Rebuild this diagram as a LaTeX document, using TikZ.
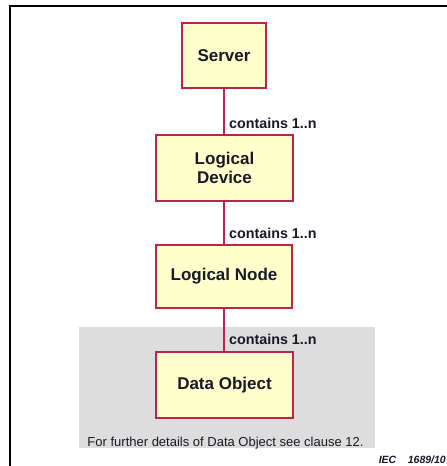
\documentclass[tikz,border=0pt]{standalone}
\usepackage{fontspec}
\setmainfont{Liberation Sans}
\begin{document}
\begin{tikzpicture}[x=1pt,y=-1pt,
  cls/.style={draw=boxred, fill=boxfill, line width=1.1pt, inner sep=0pt, align=center,
    font=\fontsize{17}{20}\selectfont\bfseries, text=textdark},
  lbl/.style={anchor=west, inner sep=0pt, font=\fontsize{14.3}{16}\selectfont\bfseries, text=textdark},
  conn/.style={draw=boxred, line width=1.1pt}]
\definecolor{boxred}{RGB}{190,35,80}
\definecolor{boxfill}{RGB}{255,255,204}
\definecolor{graybg}{RGB}{221,221,221}
\definecolor{textdark}{RGB}{25,25,40}
\useasboundingbox (0,0) rectangle (447,466);
\fill[white] (0,0) rectangle (447,466);
% frame
\draw[line width=2.2pt] (10,466) -- (10,6) -- (447,6);
% gray area
\fill[graybg] (79,327) rectangle (375,448);
% boxes
\node[cls, minimum width=84pt, minimum height=65pt] (srv) at (224,55.5) {Server};
\node[cls, minimum width=137pt, minimum height=66pt] (ld) at (224.5,168) {Logical\\[-1pt]Device};
\node[cls, minimum width=136pt, minimum height=63pt] (ln) at (224,276.5) {Logical Node};
\node[cls, minimum width=137pt, minimum height=66pt] (do) at (224.5,385) {Data Object};
% connectors
\draw[conn] (srv.south -| 224,0) -- (ld.north -| 224,0);
\draw[conn] (ld.south -| 224,0) -- (ln.north -| 224,0);
\draw[conn] (ln.south -| 224,0) -- (do.north -| 224,0);
% labels
\node[lbl] (l1) at (229,123) {contains 1..n};
\node[lbl] (l2) at (229,233) {contains 1..n};
\node[lbl] (l3) at (229,339) {contains 1..n};
% footer
\node[inner sep=0pt, font=\fontsize{13}{15}\selectfont, text=textdark] (note) at (225.5,443) {For further details of Data Object see clause 12.};
\node[inner sep=0pt, anchor=east, font=\fontsize{10.5}{12}\selectfont\bfseries\itshape, text=textdark] (iec) at (446,460) {IEC\hspace{1.1em}1689/10};
\end{tikzpicture}
\end{document}
